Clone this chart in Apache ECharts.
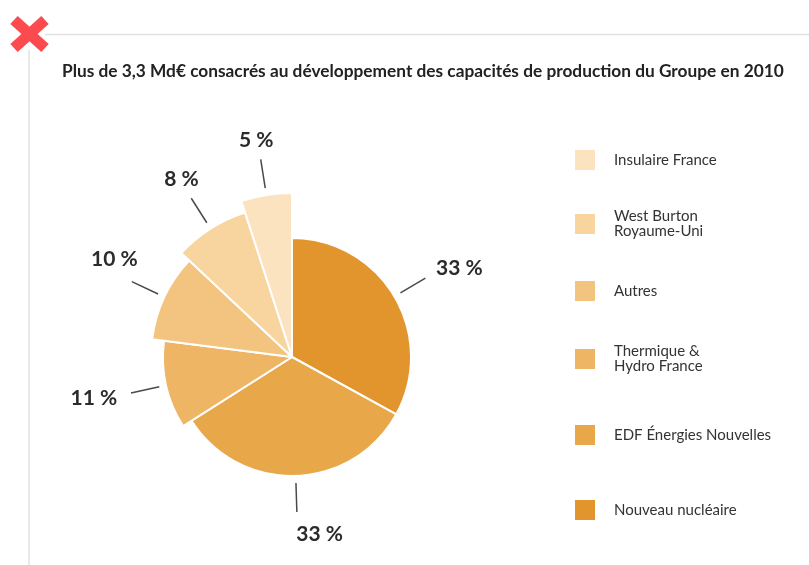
<!DOCTYPE html>
<html><head><meta charset="utf-8">
<script src="https://cdn.jsdelivr.net/npm/echarts@6/dist/echarts.min.js"></script>
<style>html,body{margin:0;padding:0;background:#fff}#c{width:809px;height:565px}</style>
</head><body><div id="c"></div>
<script>
const categories = ['Nouveau nucléaire', 'EDF Énergies Nouvelles', 'Thermique & Hydro France', 'Autres', 'West Burton Royaume-Uni', 'Insulaire France'];
const legendNames = ['Nouveau nucléaire', 'EDF Énergies Nouvelles', 'Thermique &\nHydro France', 'Autres', 'West Burton\nRoyaume-Uni', 'Insulaire France'];
const shares = [33, 33, 11, 10, 8, 5];
const percentLabels = shares.map(v => v + ' %');
const colors = ['#E2952D', '#E8A748', '#EDB564', '#F3C47F', '#F8D49E', '#FCE3BF'];
const legendOrder = [5, 4, 3, 2, 1, 0];
const titleText = 'Plus de 3,3 Md€ consacrés au développement des capacités de production du Groupe en 2010';

const cx = 292, cy = 357;
const radii = [119, 119, 129, 141, 152, 164];
const labelDist = [188, 176, 200, 200, 209, 219];
const labelShift = [[3, 8], [22, -2], [0, -3], [6, -11], [3, 1], [-1, 3]];
const legendCenters = [160, 224, 291, 359, 435, 510];

const series = [];
categories.forEach((_, i) => {
  series.push({
    type: 'pie', center: [cx, cy], radius: [0, radii[i]], startAngle: 90, clockwise: true,
    avoidLabelOverlap: false, silent: true, animation: false,
    label: { show: false }, labelLine: { show: false },
    data: categories.map((n, j) => ({
      name: n, value: shares[j],
      itemStyle: j === i ? { color: colors[j], borderColor: '#fff', borderWidth: 2 } : { color: 'rgba(0,0,0,0)', borderWidth: 0 }
    }))
  });
});
categories.forEach((_, i) => {
  series.push({
    type: 'pie', center: [cx, cy], radius: [0, radii[i] + 7], startAngle: 90, clockwise: true,
    avoidLabelOverlap: false, silent: true, animation: false,
    itemStyle: { color: 'rgba(0,0,0,0)' },
    label: { show: true, formatter: ' ', fontSize: 1 },
    labelLine: { show: true, length: 29, length2: 0, smooth: false, lineStyle: { color: '#4a4a4a', width: 1.5 } },
    data: categories.map((n, j) => ({
      name: n, value: shares[j],
      label: { show: j === i }, labelLine: { show: j === i }
    }))
  });
});
categories.forEach((_, i) => {
  series.push({
    type: 'pie', center: [cx, cy], radius: [labelDist[i] - 1, labelDist[i] + 1], startAngle: 90, clockwise: true,
    avoidLabelOverlap: false, silent: true, animation: false,
    itemStyle: { color: 'rgba(0,0,0,0)' },
    labelLine: { show: false },
    label: { show: true, position: 'inside', formatter: percentLabels[i], fontSize: 21, fontWeight: 'bold', color: '#2b2b2b', fontFamily: 'Lato' },
    labelLayout: (p) => ({ dx: labelShift[i][0], dy: labelShift[i][1] }),
    data: categories.map((n, j) => ({
      name: n, value: shares[j], label: { show: j === i }
    }))
  });
});

const legends = legendOrder.map((ci, k) => {
  const twoLines = legendNames[ci].indexOf('\n') >= 0;
  return {
    data: [{ name: categories[ci], itemStyle: { color: colors[ci], borderWidth: 0 } }],
    left: 575, top: legendCenters[k] - (twoLines ? 15 : 10), padding: 0,
    orient: 'vertical', icon: 'rect', itemWidth: 20, itemHeight: 20, selectedMode: false,
    formatter: () => legendNames[ci],
    textStyle: { fontSize: 15, lineHeight: 15, color: '#333', fontFamily: 'Lato', padding: [0, 0, 0, 14] }
  };
});

const chart = echarts.init(document.getElementById('c'), null, { renderer: 'canvas' });
chart.setOption({
  animation: false,
  backgroundColor: '#fff',
  title: { text: titleText, left: 62, top: 63, padding: 0, textStyle: { fontSize: 17.3, fontWeight: 'bold', color: '#222', fontFamily: 'Lato' } },
  legend: legends,
  graphic: [
    { type: 'line', shape: { x1: 45, y1: 34.5, x2: 809, y2: 34.5 }, style: { stroke: '#e2e2e2', lineWidth: 1.5 } },
    { type: 'line', shape: { x1: 29, y1: 50, x2: 29, y2: 565 }, style: { stroke: '#e2e2e2', lineWidth: 1.5 } },
    { type: 'line', shape: { x1: 14, y1: 20, x2: 45, y2: 48 }, style: { stroke: '#FB4B4E', lineWidth: 11 } },
    { type: 'line', shape: { x1: 45, y1: 20, x2: 14, y2: 48 }, style: { stroke: '#FB4B4E', lineWidth: 11 } }
  ],
  series: series
});
</script></body></html>
